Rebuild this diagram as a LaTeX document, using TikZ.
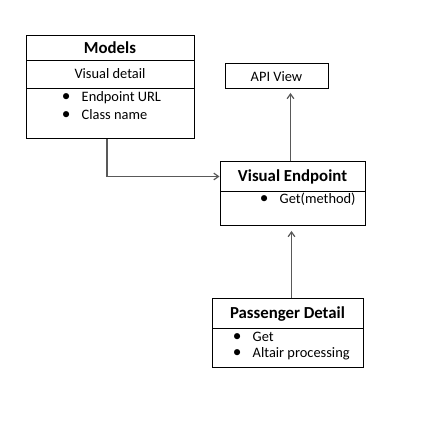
\documentclass[tikz,border=0pt]{standalone}
\usepackage{fontspec}
\setmainfont{Carlito}
\usetikzlibrary{arrows.meta}
\newcommand{\mybul}{{\fontsize{13pt}{12pt}\selectfont\textbullet}\hspace{8.5pt}}
\begin{document}
\begin{tikzpicture}[x=0.75pt,y=-0.75pt,
  box/.style={draw,line width=0.75pt,inner sep=0pt,rectangle},
  divider/.style={line width=0.75pt},
  titletext/.style={font=\fontsize{12.6pt}{14pt}\selectfont\bfseries,inner sep=0pt},
  bodytext/.style={font=\fontsize{10.8pt}{12pt}\selectfont,inner sep=0pt},
  bullettext/.style={font=\fontsize{10.8pt}{12pt}\selectfont,inner sep=0pt,anchor=west},
  conn/.style={line width=0.9pt,draw=black!65,-{Straight Barb[length=3.5pt,width=5pt]}}]
\fill[white] (0,0) rectangle (433,431);
% boxes
\node[box,minimum width=126pt,minimum height=77.25pt] (models) at (110,87.5) {};
\node[box,minimum width=77.25pt,minimum height=18.75pt] (api) at (276.5,76.5) {};
\node[box,minimum width=108.75pt,minimum height=48pt] (ve) at (292.5,194) {};
\node[box,minimum width=113.25pt,minimum height=51.75pt] (pd) at (287.5,333.5) {};
% dividers
\draw[divider] (26,61) -- (194,61);
\draw[divider] (26,89) -- (194,89);
\draw[divider] (220,192) -- (365,192);
\draw[divider] (212,329) -- (363,329);
% texts
\node[titletext] (mtitle) at (110,47.5) {Models};
\node[bodytext] (mvis) at (110,74) {Visual detail};
\node[bullettext] (mb1) at (61.5,97.5) {\mybul Endpoint URL};
\node[bullettext] (mb2) at (61.5,114.5) {\mybul Class name};
\node[bodytext] (atext) at (276.5,77) {API View};
\node[titletext] (vtitle) at (292.5,176.5) {Visual Endpoint};
\node[bullettext] (vb1) at (259.5,199.5) {\mybul Get(method)};
\node[titletext] (ptitle) at (287.5,314.5) {Passenger Detail};
\node[bullettext] (pb1) at (232.5,336.5) {\mybul Get};
\node[bullettext] (pb2) at (232.5,353.5) {\mybul Altair processing};
% connector anchor points
\coordinate (mbend) at (107,176.5);
\coordinate (abot) at (290.5,93);
\coordinate (vbot) at (291.5,231);
% connectors
\draw[conn] (models.south -| mbend) -- (mbend) -- (mbend -| ve.west);
\draw[conn] (ve.north -| abot) -- (abot);
\draw[conn] (pd.north -| vbot) -- (vbot);
\end{tikzpicture}
\end{document}
